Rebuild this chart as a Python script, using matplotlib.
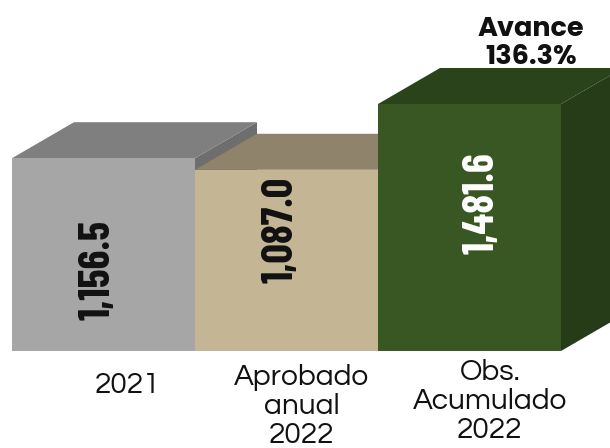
import matplotlib.pyplot as plt
from matplotlib.patches import Polygon

categories = ['2021', 'Aprobado\nanual\n2022', 'Obs.\nAcumulado\n2022']
values = [1156.5, 1087.0, 1481.6]
value_labels = ['1,156.5', '1,087.0', '1,481.6']
avance_label = 'Avance\n136.3%'

front_colors = ['#A6A6A6', '#C4B595', '#385723']
top_colors = ['#7F7F7F', '#8F836C', '#2B431B']
side_colors = ['#6E6E6E', '#7D725E', '#263C18']
label_colors = ['#111111', '#111111', 'white']

gothic = ['URW Gothic', 'Questrial', 'Didact Gothic', 'DejaVu Sans']
gothic_bold = ['Poppins', 'Montserrat', 'Mulish', 'DejaVu Sans']

W, H = 610, 448
px_x = 183.0        # pixels per bar unit
px_y = 0.1667       # pixels per value unit
base_px = 97        # baseline from bottom
left_px = 12
dx = 62 / px_x      # depth offset
dy = 36 / px_y

fig = plt.figure(figsize=(W / 100, H / 100), dpi=100)
ax = fig.add_axes([0, 0, 1, 1])
x0 = -0.5 - left_px / px_x
ax.set_xlim(x0, x0 + W / px_x)
ax.set_ylim(-base_px / px_y, (H - base_px) / px_y)
ax.axis('off')

for i, v in enumerate(values):
    l, r = i - 0.5, i + 0.5
    z = 2 + 3 * i
    side = Polygon([(r, 0), (r + dx, dy), (r + dx, v + dy), (r, v)],
                   closed=True, facecolor=side_colors[i], edgecolor='none', zorder=z)
    top = Polygon([(l, v), (l + dx, v + dy), (r + dx, v + dy), (r, v)],
                  closed=True, facecolor=top_colors[i], edgecolor='none', zorder=z + 1)
    ax.add_patch(side)
    ax.add_patch(top)
    ax.bar(i, v, width=1.0, color=front_colors[i], zorder=z + 2)

# value labels inside bars
label_frac = [0.42, 0.67, 0.60]
label_dx = [-0.03, -0.03, 0.07]
for i, v in enumerate(values):
    ax.text(i + label_dx[i], v * label_frac[i], value_labels[i], rotation=90,
            ha='center', va='center', fontsize=31, fontweight='bold',
            color=label_colors[i], family=['Barlow Condensed', 'DejaVu Sans'],
            zorder=20)

# category labels
cat_x = [128, 302, 490]
cat_top = [372, 364, 359]
for i, c in enumerate(categories):
    fig.text(cat_x[i] / W, 1 - cat_top[i] / H, c, ha='center', va='top',
             fontsize=21.5, linespacing=1.1, color='#111111', family=gothic)

fig.text(531 / W, 1 - 43 / H, avance_label, ha='center', va='center',
         fontsize=19.5, fontweight='bold', linespacing=1.05, color='#111111',
         family=gothic_bold)

fig.savefig('out.png', dpi=100)
